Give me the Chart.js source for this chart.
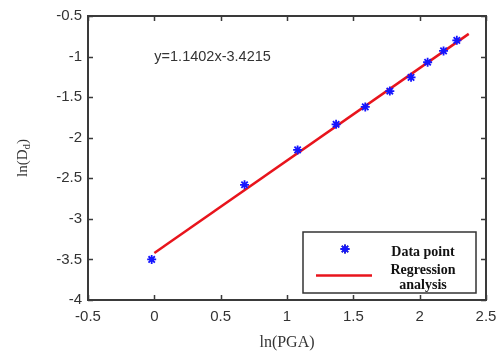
<!DOCTYPE html>
<html>
<head>
<meta charset="utf-8">
<script src="https://cdn.jsdelivr.net/npm/chart.js@4/dist/chart.umd.min.js"></script>
<style>
html,body{margin:0;padding:0;background:#fff;}
#wrap{width:498px;height:359px;position:relative;}
</style>
</head>
<body>
<div id="wrap"><canvas id="c" width="498" height="359"></canvas></div>
<script>
// Data
const pointX = [-0.02, 0.68, 1.08, 1.37, 1.59, 1.775, 1.935, 2.06, 2.18, 2.28];
const pointY = [-3.50, -2.58, -2.15, -1.835, -1.62, -1.425, -1.256, -1.07, -0.93, -0.80];
const lineX = [0.0, 2.37];
const lineY = [-3.42, -0.72];
const xTickValues = [-0.5, 0, 0.5, 1, 1.5, 2, 2.5];
const yTickValues = [-4, -3.5, -3, -2.5, -2, -1.5, -1, -0.5];
const equationText = 'y=1.1402x-3.4215';
const legendLabels = ['Data point', 'Regression\nanalysis'];

const axisColor = '#3a3a3a';
const tickFont = {family: 'Liberation Sans, Arial, sans-serif', size: 15};
const tickColor = '#333';

const framePlugin = {
  id: 'framePlugin',
  afterDraw(chart) {
    const ctx = chart.ctx;
    const a = chart.chartArea;
    const xs = chart.scales.x, ys = chart.scales.y;
    ctx.save();
    ctx.strokeStyle = axisColor;
    ctx.lineWidth = 2;
    ctx.strokeRect(a.left, a.top, a.right - a.left, a.bottom - a.top);
    ctx.lineWidth = 1.5;
    const tl = 5;
    ctx.beginPath();
    xs.ticks.forEach(t => {
      const px = Math.round(xs.getPixelForValue(t.value)) + 0.5;
      ctx.moveTo(px, a.bottom); ctx.lineTo(px, a.bottom - tl);
      ctx.moveTo(px, a.top); ctx.lineTo(px, a.top + tl);
    });
    ys.ticks.forEach(t => {
      const py = Math.round(ys.getPixelForValue(t.value)) + 0.5;
      ctx.moveTo(a.left, py); ctx.lineTo(a.left + tl, py);
      ctx.moveTo(a.right, py); ctx.lineTo(a.right - tl, py);
    });
    ctx.stroke();

    // equation text
    ctx.fillStyle = '#333';
    ctx.font = '14.5px "Liberation Sans", Arial, sans-serif';
    ctx.textAlign = 'left';
    ctx.textBaseline = 'middle';
    ctx.fillText(equationText, xs.getPixelForValue(0.0), ys.getPixelForValue(-1.0));

    // y axis title with subscript
    ctx.save();
    ctx.translate(22, (a.top + a.bottom) / 2);
    ctx.rotate(-Math.PI / 2);
    ctx.fillStyle = '#333';
    const big = '15px "Liberation Serif", "Times New Roman", serif';
    const small = '11px "Liberation Serif", "Times New Roman", serif';
    ctx.font = big;
    const w1 = ctx.measureText('ln(D').width;
    const w3 = ctx.measureText(')').width;
    ctx.font = small;
    const w2 = ctx.measureText('d').width;
    let x0 = -(w1 + w2 + w3) / 2;
    ctx.textAlign = 'left';
    ctx.textBaseline = 'alphabetic';
    ctx.font = big;
    ctx.fillText('ln(D', x0, 5);
    ctx.font = small;
    ctx.fillText('d', x0 + w1, 8);
    ctx.font = big;
    ctx.fillText(')', x0 + w1 + w2, 5);
    ctx.restore();

    // legend box
    const bw = 173, bh = 61;
    const bx = a.right - 10 - bw, by = a.bottom - 7 - bh;
    ctx.fillStyle = '#fff';
    ctx.fillRect(bx, by, bw, bh);
    ctx.strokeStyle = '#333';
    ctx.lineWidth = 1.5;
    ctx.strokeRect(bx, by, bw, bh);
    const ds0 = chart.data.datasets[0], ds1 = chart.data.datasets[1];
    // marker sample
    Chart.helpers.drawPoint(ctx, {
      pointStyle: ds0.pointStyle, radius: ds0.pointRadius, borderWidth: ds0.borderWidth, rotation: 0
    }, bx + 42, by + 17);
    ctx.strokeStyle = ds0.borderColor;
    ctx.lineWidth = ds0.borderWidth;
    ctx.stroke();
    // line sample
    ctx.beginPath();
    ctx.strokeStyle = ds1.borderColor;
    ctx.lineWidth = ds1.borderWidth;
    ctx.moveTo(bx + 13, by + 43.5);
    ctx.lineTo(bx + 69, by + 43.5);
    ctx.stroke();
    ctx.fillStyle = '#111';
    ctx.font = 'bold 14px "Liberation Serif", "Times New Roman", serif';
    ctx.textAlign = 'center';
    ctx.textBaseline = 'middle';
    ctx.fillText(legendLabels[0], bx + 120, by + 20);
    const l2 = legendLabels[1].split('\n');
    ctx.fillText(l2[0], bx + 120, by + 38);
    ctx.fillText(l2[1], bx + 120, by + 53);
    ctx.restore();
  }
};

const chart = new Chart(document.getElementById('c'), {
  type: 'scatter',
  data: {
    datasets: [
      {
        label: legendLabels[0],
        data: pointX.map((x, i) => ({x: x, y: pointY[i]})),
        pointStyle: 'star',
        pointRadius: 4.5,
        pointHoverRadius: 4.5,
        borderColor: '#1515ff',
        backgroundColor: '#1515ff',
        borderWidth: 1.8,
        showLine: false
      },
      {
        label: legendLabels[1],
        data: lineX.map((x, i) => ({x: x, y: lineY[i]})),
        showLine: true,
        borderColor: '#e8141c',
        borderWidth: 2.5,
        pointRadius: 0,
        pointHoverRadius: 0,
        fill: false
      }
    ]
  },
  options: {
    responsive: false,
    animation: false,
    devicePixelRatio: 1,
    layout: {padding: {top: 16, right: 12, left: 0, bottom: 0}},
    plugins: {legend: {display: false}, tooltip: {enabled: false}},
    scales: {
      x: {
        type: 'linear',
        min: -0.5, max: 2.5,
        afterBuildTicks: s => { s.ticks = xTickValues.map(v => ({value: v})); },
        afterFit: s => { s.height = 59; s.paddingRight = 12; s.paddingLeft = 0; },
        grid: {display: false, drawTicks: false},
        border: {display: false},
        ticks: {font: tickFont, color: tickColor, padding: 8, maxRotation: 0, callback: v => String(v)},
        title: {
          display: true, text: 'ln(PGA)', color: '#333',
          font: {family: 'Liberation Serif, Times New Roman, serif', size: 16},
          padding: {top: 0, bottom: 7}
        }
      },
      y: {
        type: 'linear',
        min: -4, max: -0.5,
        afterBuildTicks: s => { s.ticks = yTickValues.map(v => ({value: v})); },
        afterFit: s => { s.width = 88; },
        grid: {display: false, drawTicks: false},
        border: {display: false},
        ticks: {font: tickFont, color: tickColor, padding: 6, callback: v => String(v)}
      }
    }
  },
  plugins: [framePlugin]
});
</script>
</body>
</html>
